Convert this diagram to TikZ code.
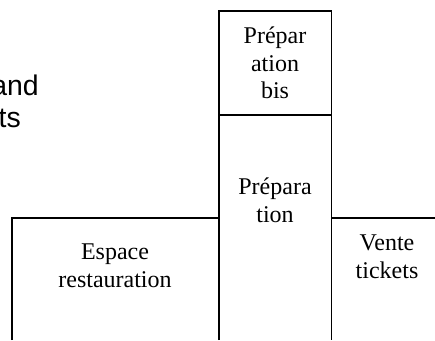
\documentclass[tikz,border=0pt]{standalone}
\usepackage{fontspec}
\setmainfont{Liberation Serif}
\newfontfamily\arialfont{Liberation Sans}
\tikzset{
  wall/.style={draw=black,line width=1.4pt},
  room/.style={font=\fontsize{24}{27.6}\selectfont,align=center,inner sep=0pt},
  clipped/.style={font=\arialfont\fontsize{28.4}{32.7}\selectfont,anchor=base east,inner sep=0pt}
}
\begin{document}
\begin{tikzpicture}[x=1pt,y=-1pt]
\useasboundingbox (0,0) rectangle (435,340);
\fill[white] (0,0) rectangle (435,340);
\coordinate (tl) at (219,11);
\coordinate (tr) at (331.5,11);
\coordinate (ml) at (219,115);
\coordinate (mr) at (331.5,115);
\coordinate (jl) at (219,218);
\coordinate (jr) at (331.5,218);
\coordinate (bl) at (219,340);
\coordinate (br) at (331.5,340);
\coordinate (el) at (12,218);
\coordinate (ebl) at (12,340);
\coordinate (er) at (435,218);
\draw[wall] (bl) -- (tl) -- (tr) -- (br);
\draw[wall] (ml) -- (mr);
\draw[wall] (ebl) -- (el) -- (jl);
\draw[wall] (jr) -- (er);
\node[room] (bis) at (275,63) {Prépar\\ation\\bis};
\node[room] (prep) at (275,200) {Prépara\\tion};
\node[room] (esp) at (115,266) {Espace\\restauration};
\node[room] (vente) at (387,257) {Vente\\tickets};
\node[clipped] (a) at (39,95) {and};
\node[clipped] (b) at (21,127.7) {ts};
\end{tikzpicture}
\end{document}
